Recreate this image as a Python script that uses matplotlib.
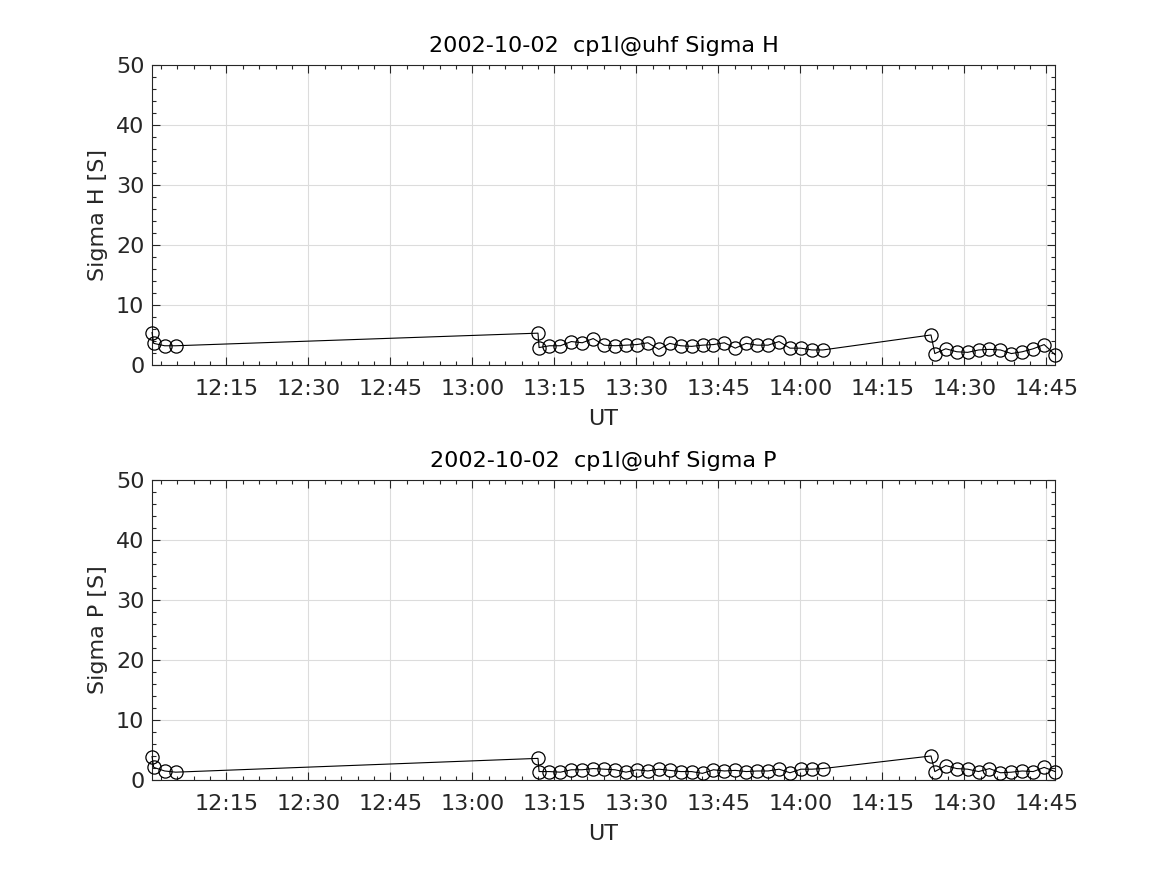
import datetime as dt
import matplotlib
matplotlib.use("Agg")
import matplotlib.pyplot as plt
import matplotlib.dates as mdates
from matplotlib.ticker import MultipleLocator

day = "2002-10-02"
times = ["12:01:24", "12:01:42", "12:03:42", "12:05:42",
         "13:12:00", "13:12:12", "13:14:06", "13:16:06", "13:18:06", "13:20:06",
         "13:22:06", "13:24:06", "13:26:06", "13:28:06", "13:30:06", "13:32:06",
         "13:34:06", "13:36:06", "13:38:06", "13:40:06", "13:42:06", "13:44:06",
         "13:46:06", "13:48:06", "13:50:06", "13:52:06", "13:54:06", "13:56:06",
         "13:58:06", "14:00:06", "14:02:06", "14:04:06",
         "14:23:54", "14:24:36", "14:26:36", "14:28:36", "14:30:36", "14:32:36",
         "14:34:36", "14:36:36", "14:38:36", "14:40:36", "14:42:36", "14:44:36",
         "14:46:36"]

sigma_h = [5.4, 3.6, 3.2, 3.2,
           5.3, 2.9, 3.2, 3.2, 3.9, 3.7, 4.4, 3.3, 3.2, 3.3, 3.4, 3.7,
           2.6, 3.6, 3.2, 3.1, 3.3, 3.4, 3.7, 2.8, 3.6, 3.3, 3.3, 3.9,
           2.8, 2.8, 2.5, 2.5,
           5.0, 1.9, 2.7, 2.2, 2.1, 2.5, 2.6, 2.5, 1.9, 2.2, 2.7, 3.4, 1.7]

sigma_p = [3.9, 2.1, 1.5, 1.3,
           3.6, 1.4, 1.4, 1.3, 1.7, 1.7, 1.9, 1.8, 1.7, 1.3, 1.7, 1.5,
           1.8, 1.6, 1.4, 1.4, 1.1, 1.7, 1.5, 1.6, 1.4, 1.5, 1.5, 1.8,
           1.2, 1.8, 1.8, 1.9,
           4.0, 1.4, 2.4, 1.9, 1.8, 1.4, 1.9, 1.2, 1.3, 1.5, 1.4, 2.1, 1.4]

t = [dt.datetime.strptime(day + " " + s, "%Y-%m-%d %H:%M:%S") for s in times]

dark = "#262626"
plt.rcParams["font.family"] = "DejaVu Sans"
plt.rcParams["font.size"] = 16

fig = plt.figure(figsize=(11.67, 8.75), dpi=100)
ax1 = fig.add_axes([0.1303, 0.5829, 0.7738, 0.3429])
ax2 = fig.add_axes([0.1303, 0.1086, 0.7738, 0.3429])

for ax, y, name in [(ax1, sigma_h, "H"), (ax2, sigma_p, "P")]:
    ax.plot(t, y, "-o", color="k", lw=0.8, ms=9.5, mfc="none", mec="k",
            mew=0.9, clip_on=False, zorder=3)
    ax.set_xlim(t[0], t[-1])
    ax.set_ylim(0, 50)
    ax.yaxis.set_major_locator(MultipleLocator(10))
    ax.yaxis.set_minor_locator(MultipleLocator(2))
    ax.xaxis.set_major_locator(mdates.MinuteLocator(byminute=[0, 15, 30, 45]))
    ax.xaxis.set_minor_locator(mdates.MinuteLocator(byminute=range(0, 60, 3)))
    ax.xaxis.set_major_formatter(mdates.DateFormatter("%H:%M"))
    ax.grid(True, which="major", color="#dcdcdc", lw=0.8)
    ax.set_axisbelow(True)
    ax.tick_params(which="both", direction="in", top=True, right=True,
                   colors=dark, labelcolor=dark, width=0.8)
    ax.tick_params(which="major", length=6)
    ax.tick_params(axis="x", which="major", pad=10)
    ax.tick_params(axis="y", which="major", pad=5.5)
    ax.tick_params(which="minor", length=3.2)
    for sp in ax.spines.values():
        sp.set_color(dark)
        sp.set_linewidth(0.8)
    ax.set_title(day + "  cp1l@uhf Sigma " + name, color="k", fontsize=16, pad=9)
    ax.set_ylabel("Sigma " + name + " [S]", color=dark, labelpad=6)
    ax.set_xlabel("UT", color=dark, labelpad=7)

fig.savefig("out.png", dpi=100)
